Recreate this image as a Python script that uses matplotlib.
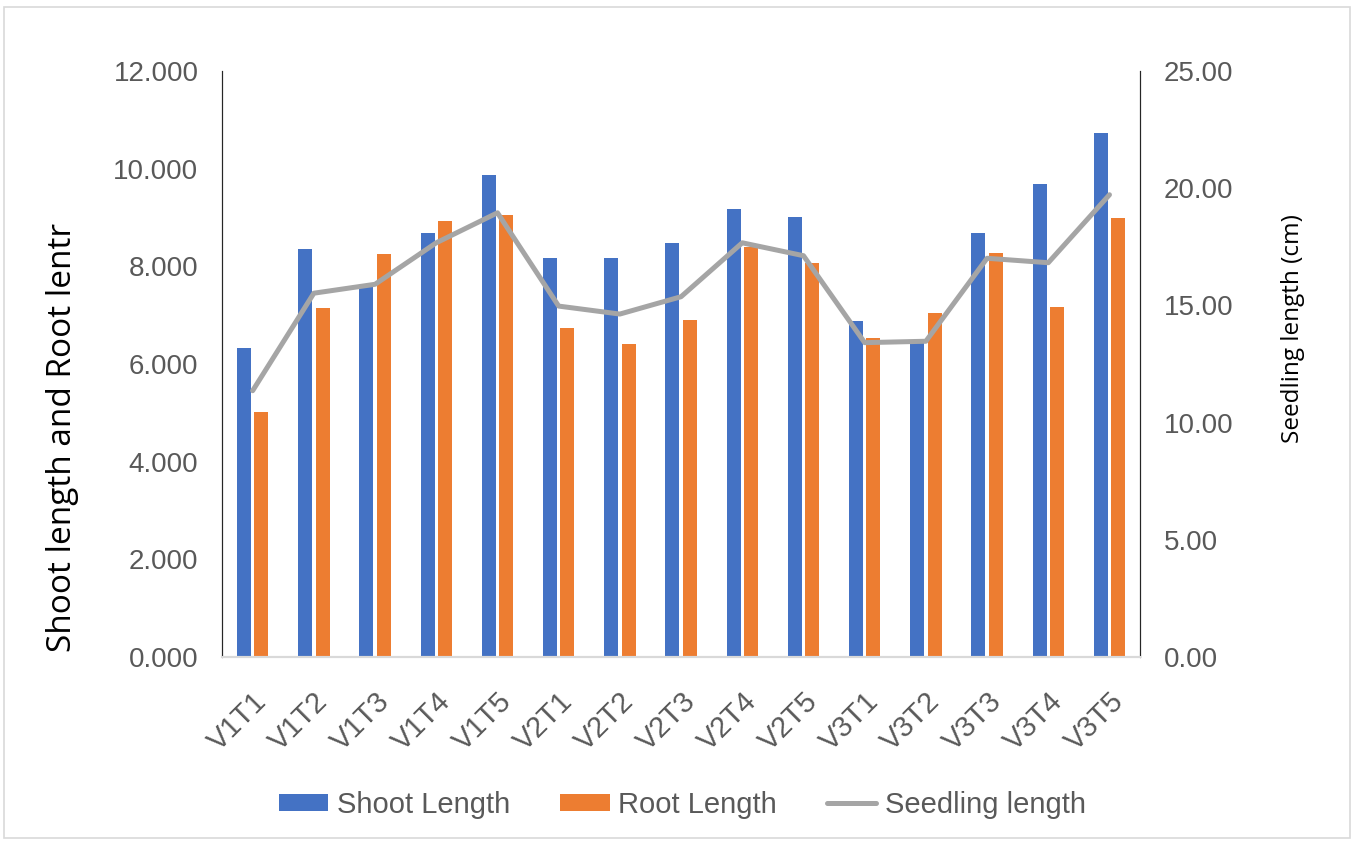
import numpy as np
import matplotlib
matplotlib.use('Agg')
import matplotlib.pyplot as plt
from matplotlib.patches import Rectangle

# ---- data ----
categories = ['V1T1', 'V1T2', 'V1T3', 'V1T4', 'V1T5',
              'V2T1', 'V2T2', 'V2T3', 'V2T4', 'V2T5',
              'V3T1', 'V3T2', 'V3T3', 'V3T4', 'V3T5']
shoot_length = [6.33, 8.35, 7.58, 8.68, 9.86,
                8.18, 8.18, 8.48, 9.18, 9.01,
                6.88, 6.45, 8.68, 9.68, 10.73]
root_length = [5.02, 7.14, 8.25, 8.92, 9.05,
               6.73, 6.40, 6.90, 8.40, 8.07,
               6.53, 7.04, 8.28, 7.17, 8.98]
seedling_length = [11.36, 15.52, 15.90, 17.67, 18.95,
                   14.97, 14.63, 15.37, 17.67, 17.12,
                   13.41, 13.47, 17.01, 16.82, 19.72]

BLUE = '#4472C4'
ORANGE = '#ED7D31'
GREY = '#A5A5A5'
TXT = '#595959'

plt.rcParams['font.family'] = ['Liberation Sans', 'DejaVu Sans']

fig = plt.figure(figsize=(13.54, 8.41), dpi=100)
fig.patches.append(Rectangle((0.003, 0.004), 0.994, 0.988, transform=fig.transFigure,
                             fill=False, edgecolor='#D9D9D9', linewidth=1.2))

ax = fig.add_axes([0.164, 0.2188, 0.678, 0.6968])
ax2 = ax.twinx()

x = np.arange(len(categories))
w = 0.23
b1 = ax.bar(x - 0.142, shoot_length, width=w, color=BLUE, label='Shoot Length', zorder=2)
b2 = ax.bar(x + 0.142, root_length, width=w, color=ORANGE, label='Root Length', zorder=2)
ln, = ax2.plot(x, seedling_length, color=GREY, linewidth=3.6,
               solid_joinstyle='round', solid_capstyle='round', label='Seedling length')

ax.set_xlim(-0.5, len(categories) - 0.5)
ax.set_ylim(0, 12)
ax2.set_ylim(0, 25)
ax.set_yticks(np.arange(0, 12.1, 2))
ax.set_yticklabels([f'{v:.3f}' for v in np.arange(0, 12.1, 2)])
ax2.set_yticks(np.arange(0, 25.1, 5))
ax2.set_yticklabels([f'{v:.2f}' for v in np.arange(0, 25.1, 5)])

ax.set_xticks(x)
ax.set_xticklabels(categories, rotation=45, ha='right', va='top',
                   rotation_mode='anchor', fontsize=21)

for a in (ax, ax2):
    a.tick_params(length=0, labelsize=20, colors=TXT)
    a.spines['top'].set_visible(False)
    a.spines['left'].set_color('#262626')
    a.spines['right'].set_color('#262626')
    a.spines['bottom'].set_color('#D9D9D9')
    a.spines['bottom'].set_linewidth(1.5)
ax.tick_params(axis='x', labelsize=21, pad=22)
ax.tick_params(axis='y', pad=17)
ax2.tick_params(axis='y', pad=17)

ax.set_ylabel('Shoot length and Root lentr', fontsize=24, color='black',
              family=['Open Sans', 'DejaVu Sans'])
ax.yaxis.set_label_coords(-0.156, 0.375)
ax2.set_ylabel('Seedling length (cm)', fontsize=17.5, color='black',
               family=['Open Sans', 'DejaVu Sans'])
ax2.yaxis.set_label_coords(1.154, 0.561)

fig.legend(handles=[b1, b2, ln], loc='center', bbox_to_anchor=(0.504, 0.043),
           ncol=3, frameon=False, fontsize=21, handlelength=1.7,
           handleheight=0.55, handletextpad=0.3, columnspacing=1.7,
           labelcolor=TXT)

fig.savefig('out.png', dpi=100, facecolor='white')
